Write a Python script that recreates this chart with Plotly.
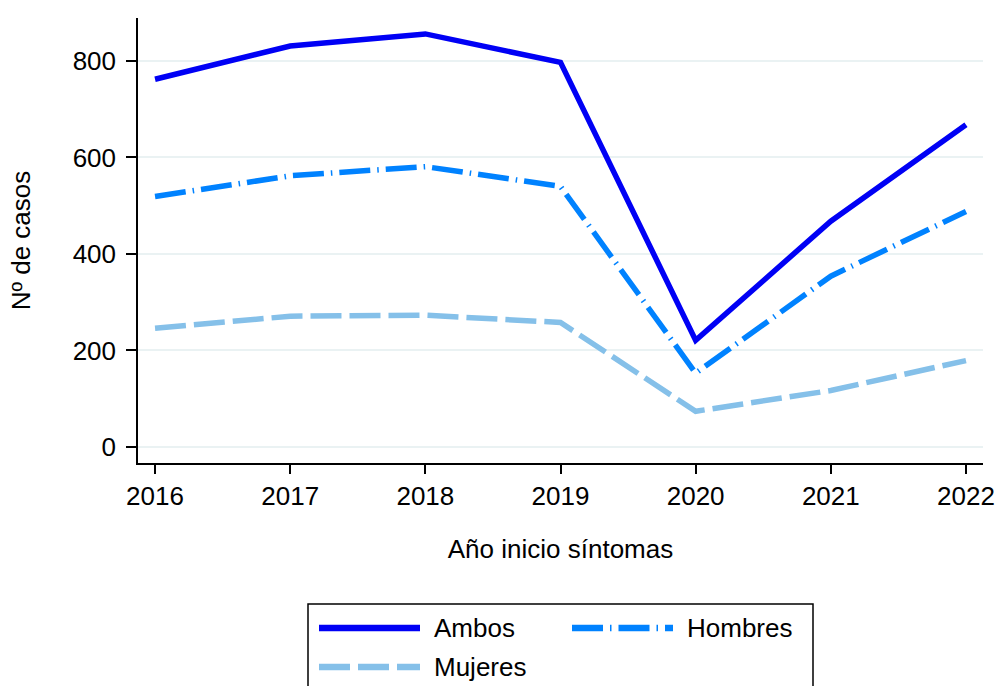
import plotly.graph_objects as go

years = [2016, 2017, 2018, 2019, 2020, 2021, 2022]
ambos = [762, 831, 856, 797, 221, 468, 668]
hombres = [519, 562, 581, 540, 153, 354, 488]
mujeres = [246, 271, 273, 258, 74, 117, 179]
y_ticks = [0, 200, 400, 600, 800]

series_names = ["Ambos", "Hombres", "Mujeres"]
series_values = [ambos, hombres, mujeres]
series_colors = ["#0000F5", "#0082FF", "#85C0E9"]
series_dash = ["solid", "31px,7px,1.5px,7px", "31px,8px"]

FONT = "Liberation Sans, Arial, sans-serif"
FS = 26

# plot area geometry in pixels
W, H = 998, 686
L, R, T, B = 138, 15, 18, 223
PW = W - L - R
PH = H - T - B


def px_x(p):
    return (p - L) / PW


def px_y(p):
    return (H - B - p) / PH


fig = go.Figure()
for name, vals, col, dash in zip(series_names, series_values, series_colors, series_dash):
    fig.add_trace(go.Scatter(
        x=years, y=vals, mode="lines", name=name,
        line=dict(color=col, width=5.5, dash=dash),
        showlegend=False,
    ))

# custom legend (Stata style)
shapes = [dict(type="rect", xref="paper", yref="paper",
               x0=px_x(308), x1=px_x(813), y0=px_y(720), y1=px_y(604),
               line=dict(color="black", width=1.5), fillcolor="rgba(0,0,0,0)")]
annotations = []
legend_pos = [(319, 628), (572, 628), (319, 667)]
for (lx, ly), name, col, dash in zip(legend_pos, series_names, series_colors, series_dash):
    shapes.append(dict(type="line", xref="paper", yref="paper",
                       x0=px_x(lx), x1=px_x(lx + 101), y0=px_y(ly), y1=px_y(ly),
                       line=dict(color=col, width=6.5, dash=dash)))
    annotations.append(dict(text=name, xref="paper", yref="paper",
                            x=px_x(lx + 113), y=px_y(ly), xanchor="left", yanchor="middle",
                            showarrow=False, font=dict(family=FONT, size=FS, color="black")))

fig.update_layout(
    width=W, height=H, autosize=False,
    margin=dict(l=L, r=R, t=T, b=B),
    paper_bgcolor="white", plot_bgcolor="white",
    font=dict(family=FONT, size=FS, color="black"),
    shapes=shapes, annotations=annotations,
    xaxis=dict(
        range=[2015.874, 2022.126], tickmode="array", tickvals=years,
        ticktext=[str(y) for y in years], automargin=False,
        showgrid=False, zeroline=False,
        showline=True, linecolor="black", linewidth=1.5,
        ticks="outside", ticklen=9, tickwidth=1.5, tickcolor="black",
        tickfont=dict(family=FONT, size=FS),
        title=dict(text="Año inicio síntomas", font=dict(family=FONT, size=FS), standoff=30),
    ),
    yaxis=dict(
        range=[-33.2, 889], tickmode="array", tickvals=y_ticks, automargin=False,
        showgrid=True, gridcolor="#EAF2F3", gridwidth=2,
        zeroline=False,
        showline=True, linecolor="black", linewidth=1.5,
        ticks="outside", ticklen=10, tickwidth=1.5, tickcolor="black",
        ticklabelstandoff=5,
        tickfont=dict(family=FONT, size=FS),
        title=dict(text="Nº de casos", font=dict(family=FONT, size=FS), standoff=35),
    ),
)

fig.write_html(
    "out.html",
    config={"displayModeBar": False, "responsive": False},
    post_script="document.body.style.margin='0';document.body.style.overflow='hidden';",
)
